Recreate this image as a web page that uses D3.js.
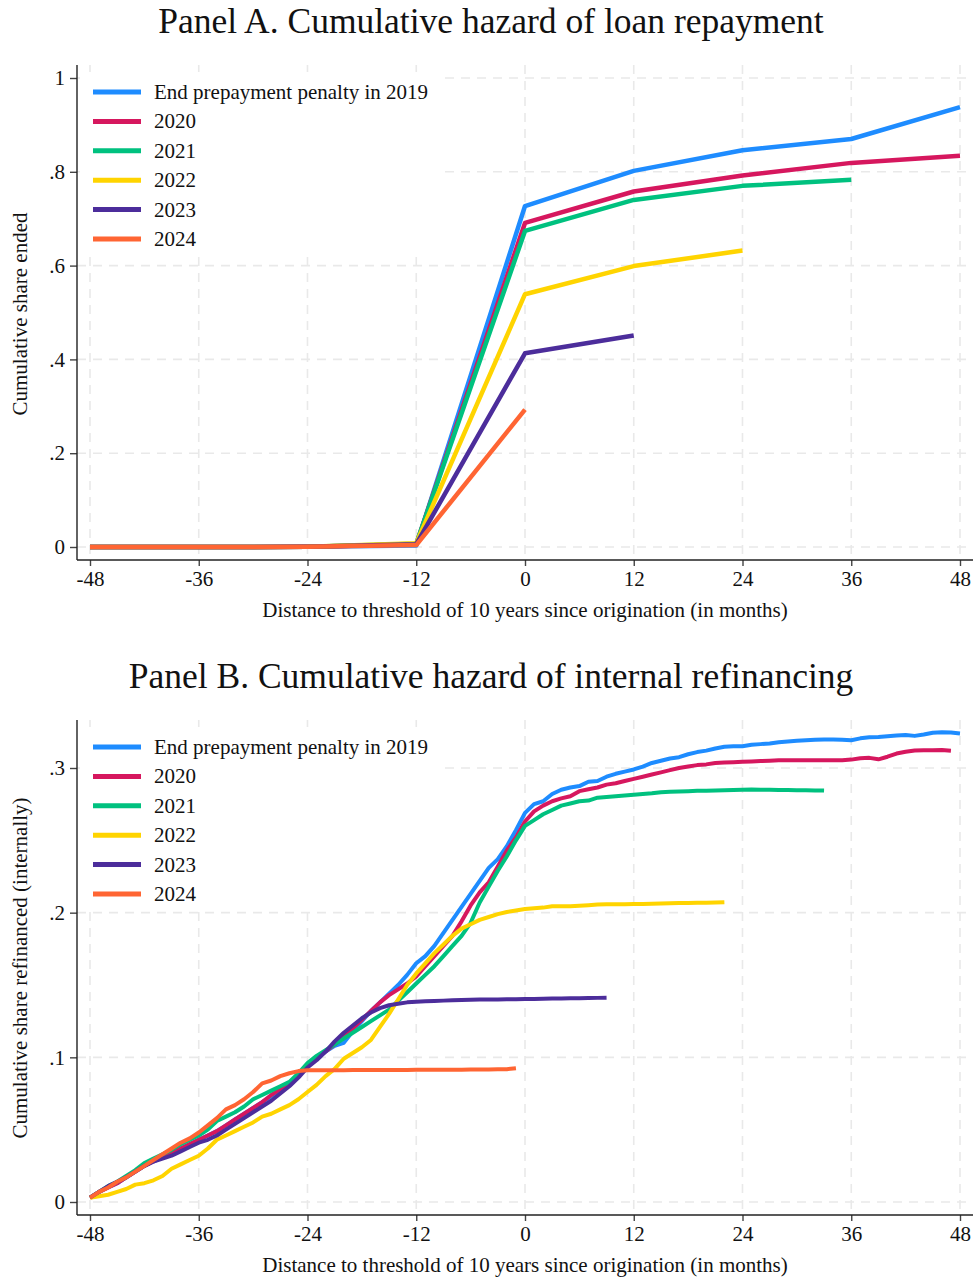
<!DOCTYPE html>
<html>
<head>
<meta charset="utf-8">
<script src="https://cdn.jsdelivr.net/npm/d3@7"></script>
<style>
  html, body { margin: 0; padding: 0; background: #fff; }
  svg text { font-family: "Liberation Serif", "Times New Roman", serif; fill: #111; }
</style>
</head>
<body>
<svg id="chart" width="974" height="1279"></svg>
<script>
// ---------------- DATA ----------------
const seriesNames = ["End prepayment penalty in 2019", "2020", "2021", "2022", "2023", "2024"];
const seriesColors = ["#1e8cff", "#d6175e", "#00c17f", "#ffd400", "#4c2d9b", "#ff6533"];

const xTicks = [-48, -36, -24, -12, 0, 12, 24, 36, 48];
const xTickLabels = ["-48", "-36", "-24", "-12", "0", "12", "24", "36", "48"];

// Panel A: annual points
const monthsA = [-48, -36, -24, -12, 0, 12, 24, 36, 48];
const repay2019 = [0, 0, 0.0005, 0.003, 0.727, 0.802, 0.846, 0.870, 0.938];
const repay2020 = [0, 0, 0.0005, 0.006, 0.691, 0.758, 0.792, 0.819, 0.834];
const repay2021 = [0, 0, 0.0005, 0.007, 0.674, 0.740, 0.770, 0.783];
const repay2022 = [0, 0, 0.0005, 0.008, 0.539, 0.599, 0.632];
const repay2023 = [0, 0, 0.0005, 0.006, 0.413, 0.451];
const repay2024 = [0, 0, 0.0005, 0.004, 0.293];
const yTicksA = [0, 0.2, 0.4, 0.6, 0.8, 1];
const yTickLabelsA = ["0", ".2", ".4", ".6", ".8", "1"];

// Panel B: monthly points, each series starts at month -48
const refiStart = -48;
const refi2019 = [0.003,0.007,0.010,0.013,0.017,0.021,0.025,0.028,0.031,0.034,0.037,0.040,0.043,0.046,0.049,0.053,0.057,0.061,0.065,0.069,0.073,0.077,0.081,0.087,0.094,0.099,0.104,0.108,0.110,0.118,0.125,0.132,0.138,0.144,0.150,0.157,0.165,0.170,0.177,0.186,0.195,0.204,0.213,0.222,0.231,0.237,0.246,0.257,0.269,0.275,0.277,0.282,0.285,0.2865,0.2875,0.2905,0.291,0.294,0.296,0.2975,0.299,0.301,0.3035,0.305,0.3066,0.3075,0.3095,0.311,0.312,0.3135,0.3147,0.315,0.3151,0.316,0.3165,0.317,0.3178,0.3183,0.3188,0.3192,0.3195,0.3197,0.3197,0.3195,0.3192,0.3205,0.3212,0.3215,0.322,0.3225,0.3228,0.3222,0.3232,0.3244,0.3247,0.3245,0.3239];
const refi2020 = [0.003,0.007,0.010,0.013,0.017,0.021,0.025,0.028,0.031,0.034,0.037,0.040,0.043,0.046,0.049,0.053,0.057,0.061,0.065,0.069,0.074,0.078,0.082,0.087,0.094,0.099,0.104,0.109,0.114,0.120,0.126,0.132,0.138,0.143,0.147,0.151,0.156,0.163,0.170,0.177,0.184,0.194,0.205,0.214,0.221,0.232,0.243,0.252,0.263,0.270,0.274,0.277,0.279,0.2805,0.284,0.2853,0.2865,0.2885,0.2895,0.291,0.2925,0.294,0.2955,0.297,0.2985,0.300,0.301,0.302,0.3025,0.3035,0.3038,0.304,0.3043,0.3045,0.3048,0.305,0.3053,0.3054,0.3054,0.3054,0.3054,0.3054,0.3054,0.3053,0.3058,0.3068,0.307,0.306,0.3078,0.310,0.3112,0.3121,0.3122,0.3123,0.3124,0.3119];
const refi2021 = [0.003,0.007,0.011,0.014,0.018,0.022,0.027,0.030,0.033,0.036,0.040,0.043,0.046,0.050,0.056,0.059,0.062,0.066,0.071,0.074,0.077,0.080,0.083,0.089,0.096,0.101,0.105,0.109,0.113,0.117,0.121,0.125,0.129,0.133,0.139,0.145,0.151,0.157,0.163,0.170,0.177,0.184,0.193,0.207,0.218,0.229,0.239,0.250,0.260,0.264,0.268,0.271,0.274,0.2755,0.277,0.2775,0.2795,0.280,0.2805,0.281,0.2815,0.282,0.2825,0.2832,0.2835,0.2838,0.284,0.2842,0.2843,0.2845,0.2846,0.2848,0.285,0.2851,0.285,0.2849,0.2848,0.2848,0.2847,0.2846,0.2845,0.2844];
const refi2022 = [0.003,0.004,0.005,0.007,0.009,0.012,0.013,0.015,0.018,0.023,0.026,0.029,0.032,0.037,0.043,0.046,0.049,0.052,0.055,0.059,0.061,0.064,0.067,0.071,0.076,0.081,0.087,0.092,0.099,0.103,0.107,0.112,0.121,0.130,0.140,0.150,0.158,0.165,0.172,0.178,0.184,0.189,0.192,0.195,0.197,0.199,0.2005,0.2015,0.2025,0.203,0.2035,0.2045,0.2045,0.2045,0.2048,0.2052,0.2056,0.2058,0.2058,0.2059,0.206,0.206,0.2061,0.2063,0.2065,0.2066,0.2067,0.2068,0.2069,0.207,0.2072];
const refi2023 = [0.003,0.007,0.011,0.014,0.017,0.021,0.025,0.028,0.030,0.032,0.035,0.038,0.041,0.043,0.046,0.050,0.054,0.058,0.062,0.066,0.070,0.075,0.080,0.086,0.093,0.098,0.104,0.111,0.117,0.122,0.127,0.131,0.134,0.136,0.137,0.138,0.1385,0.1388,0.139,0.1392,0.1395,0.1397,0.1398,0.1399,0.140,0.140,0.1401,0.1402,0.1403,0.1404,0.1405,0.1406,0.1407,0.1408,0.1409,0.141,0.1411,0.1412];
const refi2024 = [0.003,0.007,0.010,0.014,0.017,0.021,0.025,0.029,0.033,0.037,0.041,0.044,0.048,0.053,0.058,0.064,0.067,0.071,0.076,0.082,0.084,0.087,0.089,0.0905,0.091,0.091,0.0911,0.0911,0.0911,0.0912,0.0912,0.0912,0.0912,0.0913,0.0913,0.0913,0.0914,0.0914,0.0914,0.0915,0.0915,0.0915,0.0916,0.0916,0.0916,0.0917,0.0918,0.0925];
const yTicksB = [0, 0.1, 0.2, 0.3];
const yTickLabelsB = ["0", ".1", ".2", ".3"];

// ---------------- DRAW ----------------
const svg = d3.select("#chart");

function panel(cfg) {
  const g = svg.append("g");
  const x = d3.scaleLinear().domain([-48, 48]).range([90, 960]);
  const y = d3.scaleLinear().domain(cfg.yDomain).range(cfg.yRange);
  const left = 77, right = 973, top = cfg.top, bottom = cfg.bottom;

  // title
  g.append("text").attr("x", 491).attr("y", cfg.titleY)
    .attr("text-anchor", "middle").style("font-size", "35.5px").text(cfg.title);

  // gridlines
  const grid = g.append("g").attr("stroke", "#e9e9e9").attr("stroke-width", 1.6)
    .attr("stroke-dasharray", "9,7");
  grid.selectAll(".vg").data(xTicks).join("line")
    .attr("x1", d => x(d)).attr("x2", d => x(d)).attr("y1", top).attr("y2", bottom);
  grid.selectAll(".hg").data(cfg.yTicks).join("line")
    .attr("x1", left).attr("x2", right).attr("y1", d => y(d)).attr("y2", d => y(d));

  // axes
  const xAxis = d3.axisBottom(x).tickValues(xTicks).tickSize(6).tickPadding(5)
    .tickFormat((d, i) => xTickLabels[i]);
  const xg = g.append("g").attr("transform", `translate(0,${bottom})`).call(xAxis);
  xg.select(".domain").remove();
  xg.selectAll(".tick line").attr("stroke", "#444").attr("stroke-width", 1.4);
  xg.selectAll(".tick text").style("font-size", "21px").style("font-family", "Liberation Serif").attr("fill", "#111");
  g.append("line").attr("x1", left).attr("x2", right).attr("y1", bottom).attr("y2", bottom)
    .attr("stroke", "#222").attr("stroke-width", 1.4);

  const yAxis = d3.axisLeft(y).tickValues(cfg.yTicks).tickSize(7).tickPadding(5)
    .tickFormat((d, i) => cfg.yTickLabels[i]);
  const yg = g.append("g").attr("transform", `translate(${left},0)`).call(yAxis);
  yg.select(".domain").remove();
  yg.selectAll(".tick line").attr("stroke", "#444").attr("stroke-width", 1.4);
  yg.selectAll(".tick text").style("font-size", "21px").style("font-family", "Liberation Serif").attr("fill", "#111");
  g.append("line").attr("x1", left).attr("x2", left).attr("y1", top).attr("y2", bottom)
    .attr("stroke", "#222").attr("stroke-width", 1.4);

  // axis titles
  g.append("text").attr("x", 525).attr("y", cfg.xTitleY).attr("text-anchor", "middle")
    .style("font-size", "21px").text("Distance to threshold of 10 years since origination (in months)");
  g.append("text").attr("transform", `translate(27,${cfg.yTitleMid}) rotate(-90)`)
    .attr("text-anchor", "middle").style("font-size", "21px").text(cfg.yTitle);

  // lines
  const line = d3.line().x(d => x(d[0])).y(d => y(d[1]));
  cfg.series.forEach((s, i) => {
    g.append("path").datum(s).attr("d", line).attr("fill", "none")
      .attr("stroke", seriesColors[i]).attr("stroke-width", cfg.lw)
      .attr("stroke-linejoin", "round").attr("stroke-linecap", "butt");
  });

  // legend
  const lg = g.append("g");
  lg.append("rect").attr("x", 80).attr("y", cfg.legendTop).attr("width", 363)
    .attr("height", cfg.legendH).attr("fill", "#fff");
  seriesNames.forEach((n, i) => {
    const ry = cfg.legendY0 + i * 29.4;
    lg.append("line").attr("x1", 93).attr("x2", 141).attr("y1", ry).attr("y2", ry)
      .attr("stroke", seriesColors[i]).attr("stroke-width", 5);
    lg.append("text").attr("x", 154).attr("y", ry + 7).style("font-size", "21px").text(n);
  });
}

const seriesA = [repay2019, repay2020, repay2021, repay2022, repay2023, repay2024]
  .map(arr => arr.map((v, i) => [monthsA[i], v]));
const seriesB = [refi2019, refi2020, refi2021, refi2022, refi2023, refi2024]
  .map(arr => arr.map((v, i) => [refiStart + i, v]));

panel({
  title: "Panel A. Cumulative hazard of loan repayment", titleY: 33,
  top: 65, bottom: 560, yDomain: [0, 1], yRange: [547, 78],
  yTicks: yTicksA, yTickLabels: yTickLabelsA,
  xTitleY: 617, yTitle: "Cumulative share ended", yTitleMid: 314,
  series: seriesA, legendTop: 72, legendH: 183, legendY0: 92, lw: 4.5
});

panel({
  title: "Panel B. Cumulative hazard of internal refinancing", titleY: 688,
  top: 720, bottom: 1215, yDomain: [0, 0.3], yRange: [1202, 768],
  yTicks: yTicksB, yTickLabels: yTickLabelsB,
  xTitleY: 1272, yTitle: "Cumulative share refinanced (internally)", yTitleMid: 968,
  series: seriesB, legendTop: 727, legendH: 181, legendY0: 747, lw: 4
});
</script>
</body>
</html>
